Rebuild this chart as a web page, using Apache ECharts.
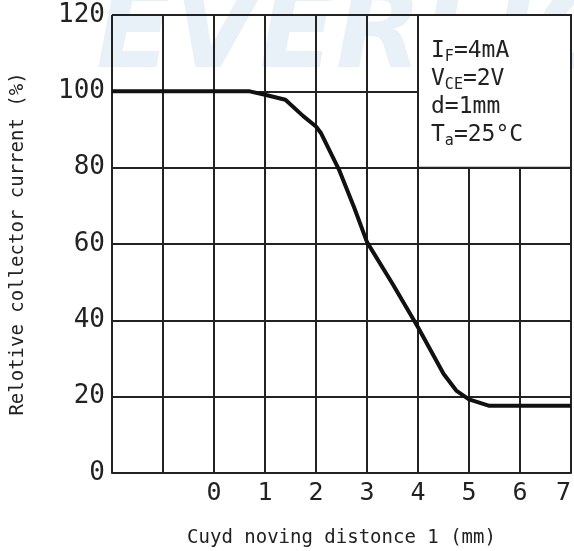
<!DOCTYPE html>
<html>
<head>
<meta charset="utf-8">
<script src="https://cdn.jsdelivr.net/npm/echarts@6/dist/echarts.min.js"></script>
<style>
  html, body { margin: 0; padding: 0; background: #fff; }
  #chart { width: 574px; height: 551px; }
</style>
</head>
<body>
<div id="chart"></div>
<script>
// Distance (mm) and relative collector current (%)
const distance = [-2, 0.7, 1, 1.4, 1.75, 2, 2.1, 2.45, 2.75, 3, 3.5, 4, 4.5, 4.75, 5, 5.4, 7];
const relCurrent = [100, 100, 99.1, 97.8, 93.5, 90.8, 89, 79.5, 69.5, 60.5, 49.6, 38.2, 26, 21.6, 19.3, 17.6, 17.6];

const xLabels = [0, 1, 2, 3, 4, 5, 6, 7];
const yTicks = [0, 20, 40, 60, 80, 100, 120];

// Test conditions box spans this data region
const condBox = { x0: 4, x1: 7, y0: 80, y1: 120 };

const MONO = '"DejaVu Sans Mono", monospace';

const chart = echarts.init(document.getElementById('chart'), null, { renderer: 'canvas' });

chart.setOption({
  animation: false,
  backgroundColor: '#ffffff',
  graphic: [{
    type: 'text',
    z: -10,
    silent: true,
    left: 96,
    top: -18,
    style: {
      text: 'EVERLIGHT',
      font: 'italic bold 112px "DejaVu Sans"',
      fill: '#e8f0f8'
    }
  }],
  grid: { left: 112, right: 3, top: 15, bottom: 78, outerBoundsMode: 'none', containLabel: false },
  xAxis: {
    type: 'value',
    min: -2,
    max: 7,
    interval: 1,
    name: 'Cuyd noving distonce 1 (mm)',
    nameLocation: 'middle',
    nameGap: 56,
    nameTextStyle: { fontFamily: MONO, fontSize: 19, color: '#222' },
    axisLine: { show: true, lineStyle: { color: '#222', width: 2 } },
    axisTick: { show: false },
    axisLabel: {
      margin: 8,
      fontFamily: MONO,
      fontSize: 25,
      color: '#222',
      alignMaxLabel: 'right',
      formatter: v => (xLabels.indexOf(v) >= 0 ? String(v) : '')
    },
    splitLine: { show: true, lineStyle: { color: '#222', width: 2 } }
  },
  yAxis: {
    type: 'value',
    min: yTicks[0],
    max: yTicks[yTicks.length - 1],
    interval: 20,
    name: 'Relotive collector current (%)',
    nameLocation: 'middle',
    nameGap: 84,
    nameTextStyle: { fontFamily: MONO, fontSize: 19, color: '#222' },
    axisLine: { show: true, lineStyle: { color: '#222', width: 2 } },
    axisTick: { show: false },
    axisLabel: {
      margin: 7,
      fontFamily: MONO,
      fontSize: 26,
      color: '#222'
    },
    splitLine: { show: true, lineStyle: { color: '#222', width: 2 } }
  },
  series: [{
    type: 'line',
    data: distance.map((d, i) => [d, relCurrent[i]]),
    showSymbol: false,
    smooth: false,
    lineStyle: { color: '#111', width: 4 },
    markArea: {
      silent: true,
      itemStyle: { color: '#ffffff', borderColor: '#222', borderWidth: 2 },
      label: {
        show: true,
        position: [14, 23],
        fontFamily: MONO,
        fontSize: 23,
        color: '#222',
        lineHeight: 28,
        formatter: '{m|I}{s|F}{m|=4mA}\n{m|V}{s|CE}{m|=2V}\n{m|d=1mm}\n{m|T}{s|a}{m|=25°C}',
        rich: {
          m: { fontFamily: MONO, fontSize: 23, color: '#222', lineHeight: 28 },
          s: { fontFamily: MONO, fontSize: 15, color: '#222', lineHeight: 28, verticalAlign: 'bottom' }
        }
      },
      data: [[
        { coord: [condBox.x0, condBox.y1] },
        { coord: [condBox.x1, condBox.y0] }
      ]]
    }
  }]
});
</script>
</body>
</html>
